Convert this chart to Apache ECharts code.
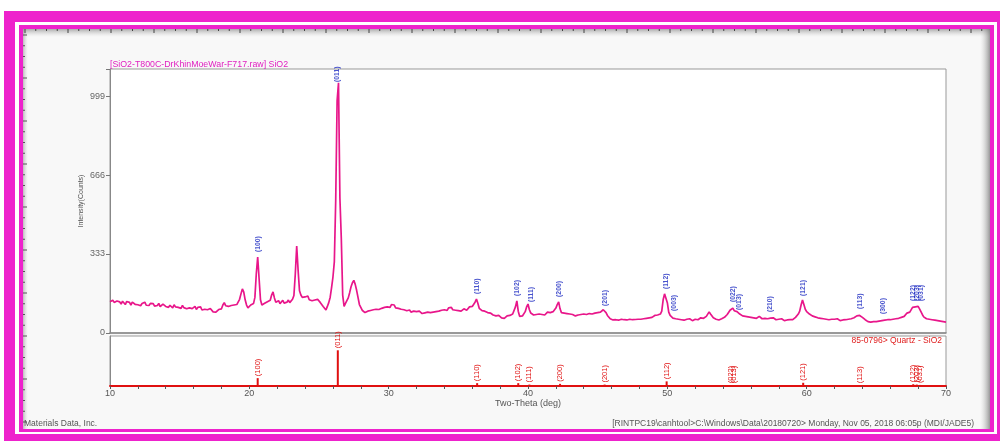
<!DOCTYPE html>
<html>
	<head>
		<meta charset="utf-8" />
		<title>SiO2 XRD</title>
		<script src="https://cdn.jsdelivr.net/npm/echarts@6/dist/echarts.min.js"></script>
		<style>
			html, body { margin: 0; padding: 0; background: #fff; }
			#main { width: 1000px; height: 441px; }
		</style>
	</head>
	<body>
		<div id="main"></div>
		<script>
			// measured pattern, 10 - 70 deg, step 0.1
			var thetaStart = 10;
			var thetaStep = 0.1;
			var intensity = [
				132,126,138,129,124,135,128,131,122,134,
				127,120,133,125,129,118,130,124,121,128,
				119,126,115,124,121,130,117,122,116,125,
				118,124,113,121,116,125,111,119,122,114,
				112,120,108,117,113,106,119,110,115,108,
				111,104,116,107,113,102,110,106,114,103,
				105,112,99,108,102,110,97,104,100,95,
				98,92,103,95,89,97,88,93,99,104,
				102,118,128,115,108,112,104,116,110,118,
				114,120,128,142,165,186,172,140,118,106,
				112,118,115,124,150,250,320,230,140,118,
				116,125,118,132,128,138,160,173,148,130,
				128,136,124,132,138,126,134,130,139,128,
				136,142,158,250,367,265,178,160,150,155,
				152,145,156,140,148,136,144,139,132,142,
				139,128,124,112,104,97,112,128,150,190,
				235,300,560,980,1055,570,400,160,112,125,
				130,148,170,195,212,222,205,180,150,120,
				108,96,90,86,84,92,88,95,90,98,
				94,100,92,99,96,104,98,108,102,110,
				115,108,120,112,118,106,114,104,110,100,
				106,98,102,94,90,97,88,95,92,86,
				90,84,92,86,82,90,85,80,88,84,
				86,80,88,83,90,84,92,86,96,90,
				98,102,95,106,100,108,98,104,96,100,
				94,99,92,97,102,98,96,102,110,108,
				112,118,130,143,125,104,98,94,100,92,
				90,86,93,84,80,76,82,72,70,74,
				68,64,70,62,66,72,68,74,70,80,
				88,110,135,92,70,63,72,74,90,110,
				122,98,84,80,76,82,78,74,80,76,
				78,84,76,82,88,80,86,82,90,98,
				105,120,131,102,86,80,84,78,82,76,
				80,74,78,76,72,80,76,82,78,84,
				80,86,78,84,82,88,80,86,84,90,
				86,82,88,92,98,101,86,74,66,60,
				58,55,62,56,60,54,62,58,64,56,
				60,55,62,58,64,56,60,57,63,58,
				62,58,64,60,66,62,68,64,70,66,
				70,74,68,76,72,80,92,140,165,169,
				128,88,74,66,63,68,60,64,58,62,
				56,60,54,62,58,55,60,56,52,55,
				58,62,56,60,64,58,62,66,70,76,
				89,80,72,64,60,58,62,55,58,60,
				62,66,72,78,86,96,104,105,94,88,
				90,85,80,76,72,78,70,74,68,72,
				66,70,64,68,62,66,70,64,60,66,
				62,66,60,68,63,58,64,60,56,62,
				58,54,60,56,52,58,55,60,56,62,
				56,60,66,74,80,92,118,139,120,100,
				90,84,80,76,72,78,68,70,64,68,
				62,66,60,64,58,62,56,60,58,54,
				58,54,60,56,52,58,55,52,56,60,
				58,62,60,66,64,70,72,76,74,70,
				66,60,56,52,48,54,46,50,48,52,
				48,54,50,56,52,58,54,50,56,52,
				56,52,58,55,60,56,62,60,66,64,
				70,76,84,80,88,96,108,114,110,118,
				112,102,90,78,68,63,60,56,58,52,
				56,50,54,48,52,46,50,44,48,52,
				46
			];

			// peak labels on the measured pattern
			var peakHkl = ['(100)','(011)','(110)','(102)','(111)','(200)','(201)','(112)','(003)','(022)','(013)','(210)','(121)','(113)','(300)','(122)','(203)','(031)'];
			var peakTheta = [20.65, 26.3, 36.35, 39.25, 40.2, 42.25, 45.55, 49.92, 50.5, 54.72, 55.15, 57.4, 59.75, 63.82, 65.5, 67.62, 67.9, 68.18];
			var peakBase = [337, 1054, 160, 152, 126, 148, 110, 181, 89, 126, 93, 84, 152, 97, 76, 131, 131, 131];

			// reference card 85-0796 Quartz
			var refHkl = ['(100)','(011)','(110)','(102)','(111)','(200)','(201)','(112)','(022)','(013)','(121)','(113)','(122)','(203)','(031)'];
			var refTheta = [20.6, 26.35, 36.35, 39.3, 40.1, 42.3, 45.5, 49.95, 54.55, 54.75, 59.75, 63.8, 67.65, 67.9, 68.15];
			var refInt = [22, 100, 8, 8, 4, 6, 4, 13, 2, 2, 9, 2, 5, 4, 3];

			var yTicks = [0, 333, 666, 999];

			var magenta = '#ee22cc';
			var font = 'Liberation Sans, Arial, sans-serif';

			var pattern = intensity.map(function (v, i) {
				return [+(thetaStart + i * thetaStep).toFixed(1), v];
			});
			var peakPts = peakHkl.map(function (h, i) {
				return { name: h, value: [peakTheta[i], peakBase[i]] };
			});
			var sticks = refHkl.map(function (h, i) {
				return { name: h, value: [refTheta[i], refInt[i]] };
			});

			// frame + ruler decoration
			var deco = [
				{ type: 'rect', z: -10, shape: { x: 4, y: 11, width: 996, height: 430 }, style: { fill: magenta } },
				{ type: 'rect', z: -10, shape: { x: 15, y: 22, width: 982, height: 412 }, style: { fill: '#fff' } },
				{ type: 'rect', z: -10, shape: { x: 19, y: 25, width: 975, height: 407 }, style: { fill: magenta } },
				{ type: 'rect', z: -10, shape: { x: 23, y: 29, width: 967, height: 400 }, style: { fill: '#f8f8f8' } },
				{ type: 'rect', z: -9, shape: { x: 23, y: 29, width: 967, height: 8 },
					style: { fill: new echarts.graphic.LinearGradient(0, 0, 0, 1, [{ offset: 0, color: 'rgba(120,120,120,0.6)' }, { offset: 1, color: 'rgba(200,200,200,0)' }]) } },
				{ type: 'rect', z: -9, shape: { x: 980, y: 29, width: 10, height: 400 },
					style: { fill: new echarts.graphic.LinearGradient(0, 0, 1, 0, [{ offset: 0, color: 'rgba(200,200,200,0)' }, { offset: 1, color: 'rgba(110,110,110,0.7)' }]) } },
				{ type: 'rect', z: -9, shape: { x: 23, y: 29, width: 5, height: 400 },
					style: { fill: new echarts.graphic.LinearGradient(0, 0, 1, 0, [{ offset: 0, color: 'rgba(130,130,130,0.5)' }, { offset: 1, color: 'rgba(200,200,200,0)' }]) } }
			];
			for (var k = 0; 25 + k * 10.75 < 985; k++) {
				var rx = 25 + k * 10.75;
				deco.push({ type: 'line', z: -8, shape: { x1: rx, y1: 29, x2: rx, y2: k % 4 === 0 ? 33 : 31 }, style: { stroke: '#444', lineWidth: 1 } });
			}
			for (var m = 0; 35 + m * 10.75 < 425; m++) {
				var ry = 35 + m * 10.75;
				deco.push({ type: 'line', z: -8, shape: { x1: 23, y1: ry, x2: m % 4 === 0 ? 27 : 25, y2: ry }, style: { stroke: '#555', lineWidth: 1 } });
			}
			deco.push(
				{ type: 'text', style: { x: 110, y: 69, text: '[SiO2-T800C-DrKhinMoeWar-F717.raw] SiO2', fill: '#e020c0', font: '8.8px ' + font, textAlign: 'left', textVerticalAlign: 'bottom' } },
				{ type: 'text', style: { x: 942, y: 341, text: '85-0796> Quartz - SiO2', fill: '#e02020', font: '8.5px ' + font, textAlign: 'right', textVerticalAlign: 'middle' } },
				{ type: 'text', style: { x: 24, y: 424, text: 'Materials Data, Inc.', fill: '#555', font: '8.5px ' + font, textAlign: 'left', textVerticalAlign: 'middle' } },
				{ type: 'text', style: { x: 974, y: 424, text: '[RINTPC19\\canhtool>C:\\Windows\\Data\\20180720> Monday, Nov 05, 2018 06:05p (MDI/JADE5)', fill: '#555', font: '8.5px ' + font, textAlign: 'right', textVerticalAlign: 'middle' } }
			);

			var mycharts = echarts.init(document.getElementById('main'));
			var option = {
				animation: false,
				backgroundColor: '#fff',
				textStyle: { fontFamily: font },
				graphic: { elements: deco },
				grid: [
					{ left: 110, top: 69, width: 836, height: 264, show: true, backgroundColor: '#fff', borderColor: '#999', borderWidth: 1 },
					{ left: 110, top: 336, width: 836, height: 50, show: true, backgroundColor: '#fff', borderColor: '#999', borderWidth: 1 }
				],
				xAxis: [
					{
						gridIndex: 0, type: 'value', min: 10, max: 70, interval: 2,
						axisLine: { lineStyle: { color: '#888', width: 1.5 } },
						axisTick: { show: false }, axisLabel: { show: false }, splitLine: { show: false }
					},
					{
						gridIndex: 1, type: 'value', min: 10, max: 70, interval: 2,
						name: 'Two-Theta (deg)', nameLocation: 'middle', nameGap: 13,
						nameTextStyle: { color: '#555', fontSize: 9 },
						axisLine: { lineStyle: { color: '#e01010', width: 2 } },
						axisTick: { length: 3, lineStyle: { color: '#555' } },
						axisLabel: {
							color: '#555', fontSize: 9, margin: 3,
							formatter: function (v) { return v % 10 === 0 ? v : ''; }
						},
						splitLine: { show: false }
					}
				],
				yAxis: [
					{
						gridIndex: 0, type: 'value', min: 0, max: 1113, interval: 333,
						name: 'Intensity(Counts)', nameLocation: 'middle', nameGap: 25, nameRotate: 90,
						nameMoveOverlap: false,
						nameTextStyle: { color: '#555', fontSize: 7 },
						axisLine: { show: true, lineStyle: { color: '#888' } },
						axisTick: { length: 4, lineStyle: { color: '#777' } },
						axisLabel: {
							color: '#666', fontSize: 9, margin: 5,
							formatter: function (v) { return yTicks.indexOf(v) >= 0 ? v : ''; }
						},
						splitLine: { show: false }
					},
					{
						gridIndex: 1, type: 'value', min: 0, max: 140,
						axisLine: { show: true, lineStyle: { color: '#888' } },
						axisTick: { show: false }, axisLabel: { show: false }, splitLine: { show: false }
					}
				],
				series: [
					{
						name: 'SiO2', type: 'line', xAxisIndex: 0, yAxisIndex: 0,
						data: pattern, showSymbol: false, symbol: 'none',
						lineStyle: { color: '#e8168a', width: 1.7 }
					},
					{
						name: 'peaks', type: 'scatter', xAxisIndex: 0, yAxisIndex: 0,
						data: peakPts, symbolSize: 0,
						label: {
							show: true, position: 'top', distance: 1, rotate: 90,
							align: 'left', verticalAlign: 'middle',
							formatter: '{b}', color: '#1a28c0', fontSize: 6.8, fontWeight: 'bold'
						}
					},
					{
						name: 'Quartz', type: 'bar', xAxisIndex: 1, yAxisIndex: 1,
						data: sticks, barWidth: 2,
						itemStyle: { color: '#e01010' },
						label: {
							show: true, position: 'top', distance: 2, rotate: 90,
							align: 'left', verticalAlign: 'middle',
							formatter: '{b}', color: '#e01010', fontSize: 7.5
						}
					}
				]
			};
			mycharts.setOption(option);
		</script>
	</body>
</html>
